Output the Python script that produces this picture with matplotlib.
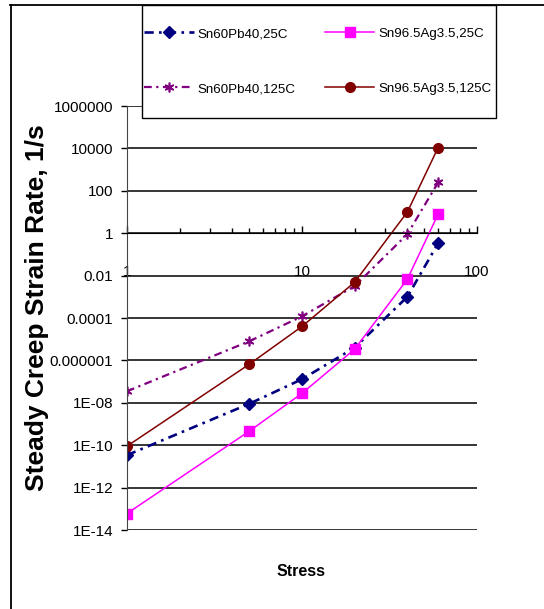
import matplotlib
matplotlib.use("Agg")
import matplotlib.pyplot as plt
from matplotlib import font_manager
from matplotlib.lines import Line2D
from matplotlib.patches import Rectangle
from matplotlib.ticker import FixedLocator, FixedFormatter, LogLocator, NullFormatter

# data
stress = [1, 5, 10, 20, 40, 60]
snpb_25 = [3.4e-11, 9e-9, 1.3e-7, 4e-6, 1e-3, 0.34]
snag_25 = [6e-14, 4.6e-10, 2.8e-8, 3.4e-6, 6.8e-3, 8]
snpb_125 = [3.5e-8, 8e-6, 1.2e-4, 3.2e-3, 0.9, 250]
snag_125 = [9e-11, 6.6e-7, 4e-5, 4.9e-3, 10, 1.1e4]
series_names = ["Sn60Pb40,25C", "Sn96.5Ag3.5,25C", "Sn60Pb40,125C", "Sn96.5Ag3.5,125C"]

ytick_vals = [1e-14, 1e-12, 1e-10, 1e-08, 1e-06, 1e-04, 1e-02, 1, 1e2, 1e4, 1e6]
ytick_labels = ["1E-14", "1E-12", "1E-10", "1E-08", "0.000001", "0.0001", "0.01",
                "1", "100", "10000", "1000000"]
xtick_vals = [1, 10, 100]
xtick_labels = ["1", "10", "100"]

# fonts: narrow Arial look-alike if we have it
names = set(f.name for f in font_manager.fontManager.ttflist)
narrow = "Liberation Sans Narrow" if "Liberation Sans Narrow" in names else "Liberation Sans"
plt.rcParams["font.family"] = [narrow, "Liberation Sans", "DejaVu Sans"]

W, H = 544, 609
fig = plt.figure(figsize=(W / 100, H / 100), dpi=100, facecolor="white")
ax = fig.add_axes([127 / W, 1 - 530 / H, 350 / W, 424 / H])

lines = []
lines.append(ax.plot(stress, snpb_25, color="#000080", lw=1.9, ls=(0, (3.5, 2, 1, 2)),
                     marker="D", ms=6, label=series_names[0])[0])
lines.append(ax.plot(stress, snag_25, color="#FF00FF", lw=1.1, ls="-",
                     marker="s", ms=6.5, label=series_names[1])[0])
lines.append(ax.plot(stress, snpb_125, color="#800080", lw=1.6, ls=(0, (3.5, 2, 1, 2)),
                     marker=(6, 2, 0), ms=7, mew=1.2, label=series_names[2])[0])
lines.append(ax.plot(stress, snag_125, color="#800000", lw=1.1, ls="-",
                     marker="o", ms=7, label=series_names[3])[0])

ax.set_xscale("log")
ax.set_yscale("log")
ax.set_xlim(1, 100)
ax.set_ylim(1e-14, 1e6)

# y axis: ticks every two decades, outward, with gridlines
ax.yaxis.set_major_locator(FixedLocator(ytick_vals))
ax.yaxis.set_major_formatter(FixedFormatter(ytick_labels))
ax.yaxis.set_minor_locator(FixedLocator([]))
ax.tick_params(axis="y", which="major", direction="out", length=4, width=1,
               pad=6, labelsize=11, colors="black")
ax.grid(axis="y", which="major", color="black", lw=1.1)

# x axis crosses at y = 1
ax.spines["bottom"].set_position(("data", 1))
ax.spines["top"].set_visible(False)
ax.spines["right"].set_visible(False)
ax.spines["left"].set_color("#444444")
ax.xaxis.set_major_locator(FixedLocator(xtick_vals))
ax.xaxis.set_major_formatter(FixedFormatter(xtick_labels))
ax.xaxis.set_minor_locator(LogLocator(base=10, subs=range(2, 10)))
ax.xaxis.set_minor_formatter(NullFormatter())
ax.tick_params(axis="x", which="major", direction="in", length=5, width=1,
               pad=23, labelsize=11)
ax.tick_params(axis="x", which="minor", direction="in", length=3.5, width=1)

fig.text(37 / W, 1 - 308 / H, "Steady Creep Strain Rate, 1/s", rotation=90,
         ha="center", va="center", fontsize=19, fontweight="bold",
         family=["Liberation Sans", "DejaVu Sans"])
fig.text(301 / W, 1 - 572 / H, "Stress", ha="center", va="center",
         fontsize=11.5, fontweight="bold")

# legend box
fig.patches.append(Rectangle((142 / W, 1 - 118 / H), 354 / W, 113 / H,
                             transform=fig.transFigure, facecolor="white",
                             edgecolor="black", lw=1, zorder=5))
leg = fig.legend([lines[0], lines[2], lines[1], lines[3]],
                 [series_names[0], series_names[2], series_names[1], series_names[3]],
                 ncol=2, loc="center", bbox_to_anchor=(318 / W, 1 - 61.5 / H),
                 frameon=False, fontsize=9.6, handlelength=3.7, handletextpad=0.3,
                 labelspacing=3.2, columnspacing=2.2)
leg.set_zorder(6)

# chart area border (top and left edges)
fig.add_artist(Line2D([10 / W, 1], [1 - 5 / H, 1 - 5 / H], color="black", lw=1.3,
                      transform=fig.transFigure))
fig.add_artist(Line2D([11 / W, 11 / W], [0, 1 - 5 / H], color="black", lw=1.3,
                      transform=fig.transFigure))

fig.savefig("out.png", dpi=100)
